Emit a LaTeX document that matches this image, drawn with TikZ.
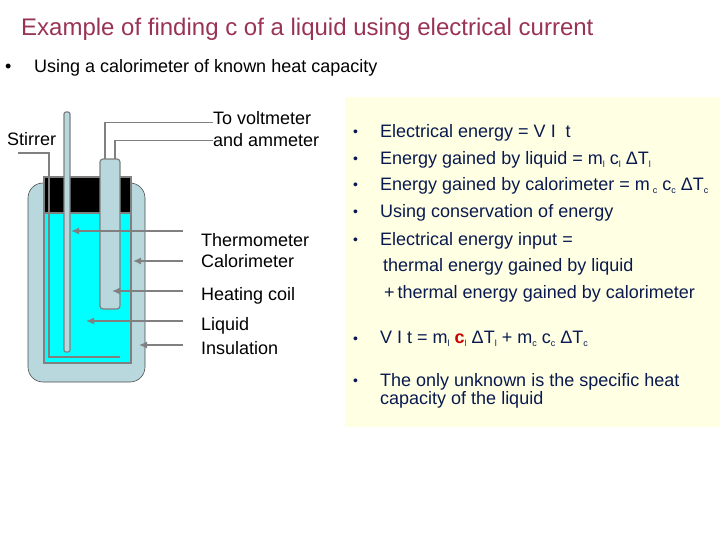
\documentclass[tikz,border=0pt]{standalone}
\usepackage{xcolor}
\usepackage{fontspec}
\setmainfont{Liberation Sans}
\usetikzlibrary{positioning, arrows.meta, calc}
\definecolor{titlered}{HTML}{993355}
\definecolor{navytext}{HTML}{0A1A50}
\definecolor{paleyellow}{HTML}{FFFFE3}
\definecolor{palesteel}{HTML}{B8D8DE}
\definecolor{liquidcyan}{HTML}{00FFFF}
\definecolor{wiregray}{HTML}{808080}
\newcommand{\lowtxt}[1]{\raisebox{-3pt}{\fontsize{9}{10}\selectfont #1}}
\newcommand{\dT}{Δ}

\begin{document}
\begin{tikzpicture}[
  x=1pt, y=-1pt,
  wire/.style={draw=wiregray, line width=1.5pt},
  pointer/.style={wire, -{Latex[length=8pt,width=7pt]}},
  part/.style={draw=wiregray, line width=1.2pt},
  lbl/.style={font=\fontsize{18}{21}\selectfont, text=black, anchor=base west, inner sep=0pt},
  txt/.style={font=\fontsize{18}{21}\selectfont, text=navytext, anchor=base west, inner sep=0pt},
  dot/.style={font=\fontsize{14}{17}\selectfont, text=navytext, anchor=base west, inner sep=0pt}
]
  \useasboundingbox (0,0) rectangle (720,540);

  \node[font=\fontsize{24}{28}\selectfont, text=titlered, anchor=base west, inner sep=0pt] (title) at (21,36) {Example of finding c of a liquid using electrical current};
  \node[lbl] (topdot) at (5,73) {•};
  \node[lbl] (topline) at (34,73) {Using a calorimeter of known heat capacity};

  % panel behind the equations
  \fill[paleyellow] (345,97) rectangle (720,427);

  % the vessel
  \draw[fill=palesteel, draw=black!70, line width=0.6pt, rounded corners=15pt] (28,183) rectangle (145,382);
  \draw[part, fill=liquidcyan] (44,213) rectangle (131,363);
  \draw[part, fill=black] (44,177) rectangle (131,213);
  \draw[part, fill=palesteel, rounded corners=2pt] (64,112) rectangle (70,352);
  \draw[part, fill=palesteel, rounded corners=3pt] (100,159) rectangle (120,309);

  % wires and stirrer paddle
  \node[lbl] (stirrer) at (7,146) {Stirrer};
  \coordinate (stirstart) at (18,153);
  \coordinate (stirend) at (120,357);
  \draw[wire] (stirstart) -| (49,357) -- (stirend);

  \node[lbl] (volt) at (213,125) {To voltmeter};
  \node[lbl] (amm) at (213,147) {and ammeter};
  \coordinate (wirea) at (105,159);
  \coordinate (wireb) at (115,159);
  \draw[wire] (wirea) |- ($(volt.west)+(0,4)$);
  \draw[wire] (wireb) |- (amm.west);

  % labels and pointers
  \node[lbl] (thermo) at (201,246) {Thermometer};
  \node[lbl] (calor) at (201,267) {Calorimeter};
  \node[lbl] (coil) at (201,300) {Heating coil};
  \node[lbl] (liquid) at (201,330) {Liquid};
  \node[lbl] (insul) at (201,354) {Insulation};

  \coordinate (thermotip) at (71,231);
  \coordinate (calortip) at (133,261);
  \coordinate (coiltip) at (112,291);
  \coordinate (liquidtip) at (86,321);
  \coordinate (insultip) at (139,345);
  \coordinate (thermotail) at (183,231);
  \coordinate (calortail) at (183,261);
  \coordinate (coiltail) at (183,291);
  \coordinate (liquidtail) at (183,321);
  \coordinate (insultail) at (183,345);
  \draw[pointer] (thermotail) -- (thermotip);
  \draw[pointer] (calortail) -- (calortip);
  \draw[pointer] (coiltail) -- (coiltip);
  \draw[pointer] (liquidtail) -- (liquidtip);
  \draw[pointer] (insultail) -- (insultip);

  % equations
  \node[dot] (d1) at (353,137) {•};
  \node[dot] (d2) at (353,164) {•};
  \node[dot] (d3) at (353,190) {•};
  \node[dot] (d4) at (353,217) {•};
  \node[dot] (d5) at (353,244) {•};
  \node[dot] (d6) at (353,343) {•};
  \node[dot] (d7) at (353,385) {•};

  \node[txt] (e1) at (380,138) {Electrical energy = V I\ \ t};
  \node[txt] (e2) at (380,165) {Energy gained by liquid = m\lowtxt{l} c\lowtxt{l} \dT T\lowtxt{l}};
  \node[txt] (e3) at (380,191) {Energy gained by calorimeter = m\,\lowtxt{c} c\lowtxt{c} \dT T\lowtxt{c}};
  \node[txt] (e4) at (380,218) {Using conservation of energy};
  \node[txt] (e5) at (380,245) {Electrical energy input =};
  \node[txt] (e6) at (383,271) {thermal energy gained by liquid};
  \node[txt] (e7) at (384,298) {+\,thermal energy gained by calorimeter};
  \node[txt] (e8) at (380,343) {V I t = m\lowtxt{l} \textcolor{red!80!black}{\textbf{c}\lowtxt{l}} \dT T\lowtxt{l} + m\lowtxt{c} c\lowtxt{c} \dT T\lowtxt{c}};
  \node[txt] (e9) at (380,386) {The only unknown is the specific heat};
  \node[txt] (e10) at (380,404) {capacity of the liquid};
\end{tikzpicture}
\end{document}
